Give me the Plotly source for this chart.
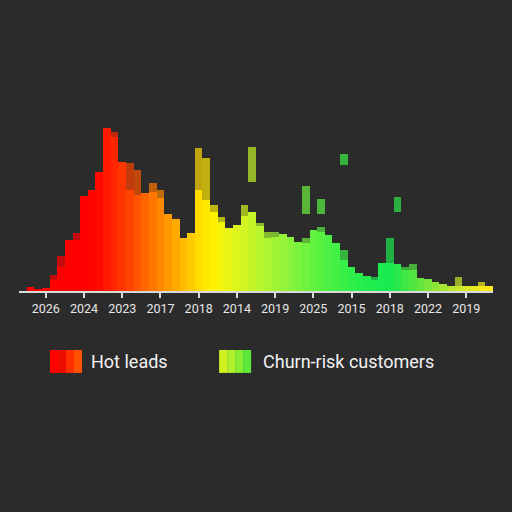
"""Hot leads vs churn-risk customers, gradient bar histogram."""
import plotly.graph_objects as go

# ------------------------------------------------------------------ data

PERIODS = list(range(62))

# main (solid) bar heights, left to right
HOT_LEADS = [0, 4, 2, 3, 11, 24, 51, 51, 95, 101,
             119, 163, 154, 129, 101, 96, 98, 99, 93, 77,
             72, 53, 58, 101, 91, 79, 69, 63, 66, 75,
             79, 65, 53, 54, 57, 54, 49, 48, 61, 59,
             56, 48, 31, 24, 18, 15, 11, 28, 28, 27,
             21, 21, 13, 12, 9, 7, 5, 5, 5, 5,
             5, 5]

# churn-risk segment sitting on top of the solid bar (top value)
CHURN_CAP = {4: 16, 5: 35, 7: 58, 12: 159, 14: 128, 15: 121, 17: 108, 18: 101,
             23: 143, 24: 133, 25: 86, 26: 74, 29: 86, 31: 68, 32: 59, 33: 59,
             37: 53, 39: 64, 42: 41, 46: 14, 48: 53, 50: 24, 51: 27, 57: 14, 60: 9}

# detached churn-risk segments: period -> (low, high)
CHURN_FLOAT = {30: (109, 144), 37: (77, 105), 39: (77, 92), 42: (126, 137), 49: (79, 94)}

TICK_POS = [3, 8, 13, 18, 23, 28, 33, 38, 43, 48, 53, 58]
TICK_LABELS = ["2026", "2024", "2023", "2017", "2018", "2014",
               "2019", "2025", "2015", "2018", "2022", "2019"]

# ------------------------------------------------------------------ style

BG = "#2b2b2b"
FONT = "Roboto"

BAR_COLORS = [
    "#ff0000", "#ff0000", "#ff0000", "#ff0000", "#ff0000", "#ff0000", "#ff0000", "#ff0000",
    "#ff0000", "#ff0400", "#ff0a00", "#ff1a00", "#ff2600", "#ff3500", "#ff4400", "#ff5500",
    "#ff6600", "#ff7700", "#ff8800", "#ff9900", "#ffaa00", "#ffbb00", "#ffcb00", "#ffdb00",
    "#ffe800", "#fff200", "#f4f40a", "#e8f514", "#dcf51c", "#d0f522", "#c4f528", "#b8f52c",
    "#acf530", "#a0f434", "#94f438", "#88f33a", "#7cf33c", "#70f23e", "#64f240", "#58f142",
    "#4cf044", "#42f046", "#38ef48", "#30ee4a", "#28ee4c", "#22ed4e", "#1eec50", "#1aeb50",
    "#1aea4e", "#2ae84a", "#3ee646", "#52e542", "#66e43e", "#7ae43a", "#8ee436", "#a2e532",
    "#b6e62e", "#c8e72a", "#d8e826", "#e6e922", "#f2ea1c", "#ffe816",
]

HOT_SWATCH = ["#ff0000", "#ee0c00", "#ff3000", "#ff5200"]
CHURN_SWATCH = ["#d2f022", "#b0ef2c", "#88ee34", "#5ee83c"]

# ------------------------------------------------------------------ traces

cap_base = [HOT_LEADS[i] if i in CHURN_CAP else None for i in PERIODS]
cap_len = [CHURN_CAP[i] - HOT_LEADS[i] if i in CHURN_CAP else None for i in PERIODS]
float_base = [CHURN_FLOAT[i][0] if i in CHURN_FLOAT else None for i in PERIODS]
float_len = [CHURN_FLOAT[i][1] - CHURN_FLOAT[i][0] if i in CHURN_FLOAT else None for i in PERIODS]

fig = go.Figure()
fig.add_trace(go.Bar(
    x=PERIODS, y=HOT_LEADS, name="Hot leads",
    marker=dict(color=BAR_COLORS, line=dict(width=0)),
    showlegend=False,
))
fig.add_trace(go.Bar(
    x=PERIODS, y=cap_len, base=cap_base, name="Churn-risk customers",
    marker=dict(color=BAR_COLORS, line=dict(width=0)), opacity=0.7,
    showlegend=False,
))
fig.add_trace(go.Bar(
    x=PERIODS, y=float_len, base=float_base, name="Churn-risk customers",
    marker=dict(color=BAR_COLORS, line=dict(width=0)), opacity=0.7,
    showlegend=False,
))


# hand-built legend with striped swatches
def swatch(x0, colors):
    w = 0.0675 / len(colors)
    for k, c in enumerate(colors):
        fig.add_shape(type="rect", xref="paper", yref="paper",
                      x0=x0 + k * w, x1=x0 + (k + 1) * w, y0=-0.482, y1=-0.347,
                      fillcolor=c, line=dict(width=0), layer="above")


swatch(0.0654, HOT_SWATCH)
swatch(0.4222, CHURN_SWATCH)
for xp, label in [(0.1478, "Hot leads"), (0.5109, "Churn-risk customers")]:
    fig.add_annotation(x=xp, y=-0.4176, xref="paper", yref="paper", text=label,
                       showarrow=False, xanchor="left", yanchor="middle",
                       font=dict(family=FONT, size=18, color="#f2f2f2"))

fig.update_layout(
    width=512, height=512,
    paper_bgcolor=BG, plot_bgcolor=BG,
    barmode="overlay", bargap=0,
    margin=dict(l=19, r=19, t=121, b=221),
    font=dict(family=FONT, color="#e6e6e6"),
    xaxis=dict(range=[-0.5, 61.5], showgrid=False, zeroline=False,
               showline=True, linecolor="#d9d9d9", linewidth=2,
               ticks="outside", ticklen=5, tickwidth=1.5, tickcolor="#d9d9d9",
               tickvals=TICK_POS, ticktext=TICK_LABELS,
               tickfont=dict(family=FONT, size=12.5, color="#e6e6e6")),
    yaxis=dict(range=[0, 170], visible=False),
)

fig.write_html("out.html",
               config={"displayModeBar": False},
               post_script="document.body.style.margin='0';"
                           "document.body.style.background='" + BG + "';")
